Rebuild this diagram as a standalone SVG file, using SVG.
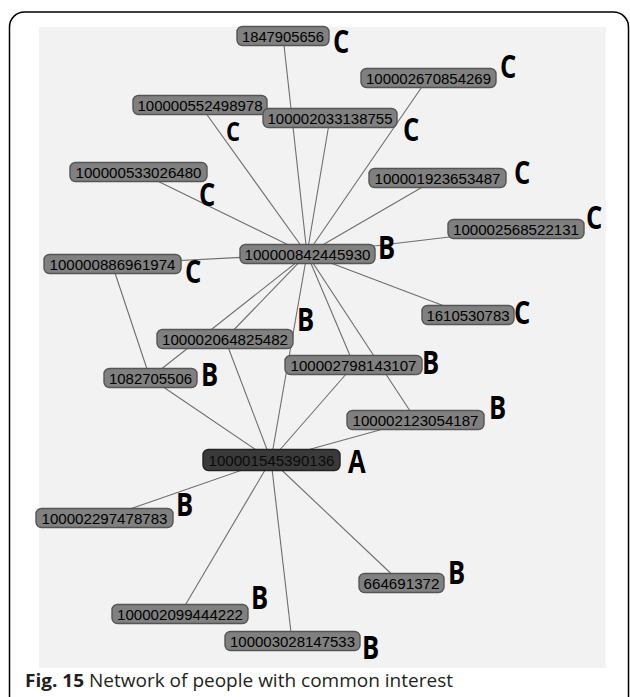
<svg xmlns="http://www.w3.org/2000/svg" width="630" height="697" viewBox="0 0 630 697">
  <style>
    .frame{fill:#fff;stroke:#000;stroke-width:1.5}
    .canvas{fill:#f2f2f2}
    .edge{stroke:#6e6e6e;stroke-width:1.1;fill:none}
    .box{fill:#808080;stroke:#555;stroke-width:1.4}
    .root .box{fill:#3a3a3a;stroke:#222}
    .id{font-family:"Liberation Sans",Arial,sans-serif;font-size:15px;fill:#000;text-anchor:middle;dominant-baseline:central}
    .root .id{fill:#0a0a0a}
    .tag{font-family:"Open Sans","Liberation Sans",sans-serif;font-weight:700;font-size:32px;fill:#000}
    .tag.small{font-size:27px}
    .cap{font-family:"Open Sans","Liberation Sans",sans-serif;font-size:18.5px;fill:#231f20}
  </style>

  <!-- outer figure frame and graph canvas -->
  <rect class="frame" x="9.5" y="12" width="619" height="700" rx="15"/>
  <rect class="canvas" x="39" y="27" width="567" height="641"/>

  <!-- connectors -->
  <g id="edges" class="edge">
    <line x1="283" y1="36" x2="307" y2="254"/>
    <line x1="428" y1="78" x2="307" y2="254"/>
    <line x1="200" y1="105" x2="307" y2="254"/>
    <line x1="330" y1="118" x2="307" y2="254"/>
    <line x1="139" y1="172" x2="307" y2="254"/>
    <line x1="438" y1="178" x2="307" y2="254"/>
    <line x1="516" y1="229" x2="307" y2="254"/>
    <line x1="112" y1="264" x2="307" y2="254"/>
    <line x1="468" y1="315" x2="307" y2="254"/>
    <line x1="225" y1="339" x2="307" y2="254"/>
    <line x1="354" y1="365" x2="307" y2="254"/>
    <line x1="150" y1="378" x2="307" y2="254"/>
    <line x1="416" y1="420" x2="307" y2="254"/>
    <line x1="307" y1="254" x2="271" y2="460"/>
    <line x1="112" y1="264" x2="150" y2="378"/>
    <line x1="225" y1="339" x2="271" y2="460"/>
    <line x1="354" y1="365" x2="271" y2="460"/>
    <line x1="150" y1="378" x2="271" y2="460"/>
    <line x1="416" y1="420" x2="271" y2="460"/>
    <line x1="104" y1="518" x2="271" y2="460"/>
    <line x1="401" y1="583" x2="271" y2="460"/>
    <line x1="180" y1="614" x2="271" y2="460"/>
    <line x1="292" y1="641" x2="271" y2="460"/>
  </g>

  <!-- nodes: id box plus its group letter -->
  <g id="n1847905656">
    <rect class="box" x="237" y="26.5" width="92" height="19" rx="5.5"/>
    <text class="id" x="283" y="36.5" textLength="82" lengthAdjust="spacingAndGlyphs">1847905656</text>
    <text class="tag" transform="translate(333 53) scale(0.8 1)">C</text>
  </g>
  <g id="n100002670854269">
    <rect class="box" x="361" y="68.5" width="135" height="19" rx="5.5"/>
    <text class="id" x="428.5" y="78.5" textLength="125" lengthAdjust="spacingAndGlyphs">100002670854269</text>
    <text class="tag" transform="translate(500 78) scale(0.8 1)">C</text>
  </g>
  <g id="n100000552498978">
    <rect class="box" x="133" y="95.5" width="134" height="19" rx="5.5"/>
    <text class="id" x="200" y="105.5" textLength="125" lengthAdjust="spacingAndGlyphs">100000552498978</text>
    <text class="tag small" transform="translate(226 141) scale(0.82 1)">C</text>
  </g>
  <g id="n100002033138755">
    <rect class="box" x="263" y="108.5" width="134" height="19" rx="5.5"/>
    <text class="id" x="330" y="118.5" textLength="125" lengthAdjust="spacingAndGlyphs">100002033138755</text>
    <text class="tag" transform="translate(403 141) scale(0.8 1)">C</text>
  </g>
  <g id="n100000533026480">
    <rect class="box" x="70" y="162.5" width="137" height="19" rx="5.5"/>
    <text class="id" x="138.5" y="172.5" textLength="126" lengthAdjust="spacingAndGlyphs">100000533026480</text>
    <text class="tag" transform="translate(199 206) scale(0.8 1)">C</text>
  </g>
  <g id="n100001923653487">
    <rect class="box" x="369" y="168.5" width="137" height="19" rx="5.5"/>
    <text class="id" x="437.5" y="178.5" textLength="126" lengthAdjust="spacingAndGlyphs">100001923653487</text>
    <text class="tag" transform="translate(514 184) scale(0.8 1)">C</text>
  </g>
  <g id="n100002568522131">
    <rect class="box" x="448" y="219.5" width="136" height="19" rx="5.5"/>
    <text class="id" x="516" y="229.5" textLength="126" lengthAdjust="spacingAndGlyphs">100002568522131</text>
    <text class="tag" transform="translate(586 229) scale(0.8 1)">C</text>
  </g>
  <g id="n100000842445930">
    <rect class="box" x="240" y="244.5" width="135" height="19" rx="5.5"/>
    <text class="id" x="307.5" y="254.5" textLength="126" lengthAdjust="spacingAndGlyphs">100000842445930</text>
    <text class="tag" transform="translate(378 259) scale(0.8 1)">B</text>
  </g>
  <g id="n100000886961974">
    <rect class="box" x="44" y="254.5" width="137" height="19" rx="5.5"/>
    <text class="id" x="112.5" y="264.5" textLength="126" lengthAdjust="spacingAndGlyphs">100000886961974</text>
    <text class="tag" transform="translate(185 283) scale(0.8 1)">C</text>
  </g>
  <g id="n1610530783">
    <rect class="box" x="422" y="305.5" width="92" height="19" rx="5.5"/>
    <text class="id" x="468" y="315.5" textLength="83" lengthAdjust="spacingAndGlyphs">1610530783</text>
    <text class="tag" transform="translate(514 324) scale(0.8 1)">C</text>
  </g>
  <g id="n100002064825482">
    <rect class="box" x="157" y="329.5" width="136" height="19" rx="5.5"/>
    <text class="id" x="225" y="339.5" textLength="126" lengthAdjust="spacingAndGlyphs">100002064825482</text>
    <text class="tag" transform="translate(297 331) scale(0.8 1)">B</text>
  </g>
  <g id="n100002798143107">
    <rect class="box" x="285" y="355.5" width="137" height="19" rx="5.5"/>
    <text class="id" x="353.5" y="365.5" textLength="126" lengthAdjust="spacingAndGlyphs">100002798143107</text>
    <text class="tag" transform="translate(422 374) scale(0.8 1)">B</text>
  </g>
  <g id="n1082705506">
    <rect class="box" x="104" y="368.5" width="93" height="19" rx="5.5"/>
    <text class="id" x="150.5" y="378.5" textLength="83" lengthAdjust="spacingAndGlyphs">1082705506</text>
    <text class="tag" transform="translate(201 386) scale(0.8 1)">B</text>
  </g>
  <g id="n100002123054187">
    <rect class="box" x="347" y="410.5" width="137" height="19" rx="5.5"/>
    <text class="id" x="415.5" y="420.5" textLength="126" lengthAdjust="spacingAndGlyphs">100002123054187</text>
    <text class="tag" transform="translate(489 419) scale(0.8 1)">B</text>
  </g>
  <g id="n100001545390136" class="root">
    <rect class="box" x="203" y="449.5" width="137" height="21" rx="5.5"/>
    <text class="id" x="271.5" y="460.5" textLength="126" lengthAdjust="spacingAndGlyphs">100001545390136</text>
    <text class="tag" transform="translate(348 473) scale(0.8 1)">A</text>
  </g>
  <g id="n100002297478783">
    <rect class="box" x="36" y="508.5" width="137" height="19" rx="5.5"/>
    <text class="id" x="104.5" y="518.5" textLength="126" lengthAdjust="spacingAndGlyphs">100002297478783</text>
    <text class="tag" transform="translate(176 516) scale(0.8 1)">B</text>
  </g>
  <g id="n664691372">
    <rect class="box" x="359" y="573.5" width="85" height="19" rx="5.5"/>
    <text class="id" x="401.5" y="583.5" textLength="76" lengthAdjust="spacingAndGlyphs">664691372</text>
    <text class="tag" transform="translate(448 584) scale(0.8 1)">B</text>
  </g>
  <g id="n100002099444222">
    <rect class="box" x="112" y="604.5" width="136" height="19" rx="5.5"/>
    <text class="id" x="180" y="614.5" textLength="126" lengthAdjust="spacingAndGlyphs">100002099444222</text>
    <text class="tag" transform="translate(251 609) scale(0.8 1)">B</text>
  </g>
  <g id="n100003028147533">
    <rect class="box" x="225" y="631.5" width="135" height="19" rx="5.5"/>
    <text class="id" x="292.5" y="641.5" textLength="125" lengthAdjust="spacingAndGlyphs">100003028147533</text>
    <text class="tag" transform="translate(362 659) scale(0.8 1)">B</text>
  </g>

  <!-- caption -->
  <text class="cap" x="25" y="687" textLength="428" lengthAdjust="spacingAndGlyphs"><tspan font-weight="700">Fig. 15</tspan> Network of people with common interest</text>
</svg>
